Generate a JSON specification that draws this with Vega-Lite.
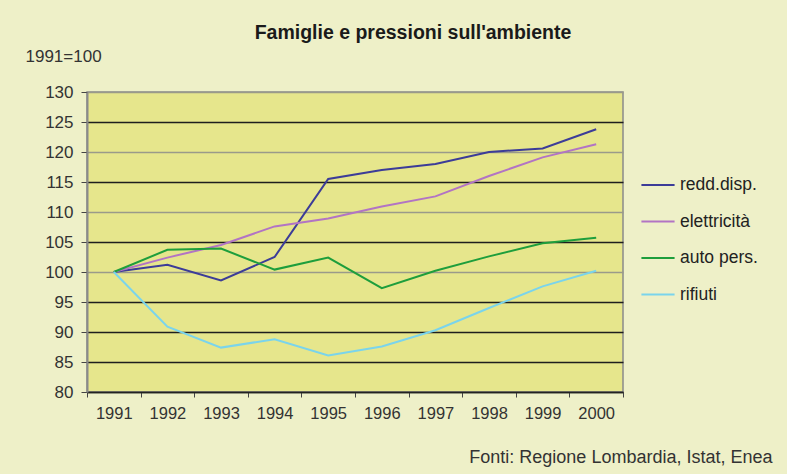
{
  "$schema": "https://vega.github.io/schema/vega-lite/v6.json",
  "width": 536,
  "height": 300,
  "autosize": {"type": "none"},
  "padding": {"left": 87, "top": 92, "right": 164, "bottom": 82},
  "background": "#eef0c8",
  "title": {
    "text": "Famiglie e pressioni sull'ambiente",
    "font": "Liberation Sans",
    "fontSize": 19.5,
    "fontWeight": "bold",
    "color": "#1a1a1a",
    "anchor": "middle",
    "frame": "group",
    "dx": 58,
    "dy": 6,
    "offset": 10
  },
  "data": {
    "values": [
      {"anno": "1991", "serie": "redd.disp.", "valore": 100},
      {"anno": "1992", "serie": "redd.disp.", "valore": 101.2},
      {"anno": "1993", "serie": "redd.disp.", "valore": 98.6},
      {"anno": "1994", "serie": "redd.disp.", "valore": 102.5},
      {"anno": "1995", "serie": "redd.disp.", "valore": 115.5},
      {"anno": "1996", "serie": "redd.disp.", "valore": 117.0},
      {"anno": "1997", "serie": "redd.disp.", "valore": 118.0},
      {"anno": "1998", "serie": "redd.disp.", "valore": 120.0},
      {"anno": "1999", "serie": "redd.disp.", "valore": 120.6},
      {"anno": "2000", "serie": "redd.disp.", "valore": 123.8},
      {"anno": "1991", "serie": "elettricità", "valore": 100},
      {"anno": "1992", "serie": "elettricità", "valore": 102.4},
      {"anno": "1993", "serie": "elettricità", "valore": 104.5},
      {"anno": "1994", "serie": "elettricità", "valore": 107.6},
      {"anno": "1995", "serie": "elettricità", "valore": 108.9},
      {"anno": "1996", "serie": "elettricità", "valore": 110.9},
      {"anno": "1997", "serie": "elettricità", "valore": 112.6},
      {"anno": "1998", "serie": "elettricità", "valore": 116.0},
      {"anno": "1999", "serie": "elettricità", "valore": 119.1},
      {"anno": "2000", "serie": "elettricità", "valore": 121.3},
      {"anno": "1991", "serie": "auto pers.", "valore": 100},
      {"anno": "1992", "serie": "auto pers.", "valore": 103.7},
      {"anno": "1993", "serie": "auto pers.", "valore": 103.9},
      {"anno": "1994", "serie": "auto pers.", "valore": 100.4},
      {"anno": "1995", "serie": "auto pers.", "valore": 102.4},
      {"anno": "1996", "serie": "auto pers.", "valore": 97.3},
      {"anno": "1997", "serie": "auto pers.", "valore": 100.2},
      {"anno": "1998", "serie": "auto pers.", "valore": 102.6},
      {"anno": "1999", "serie": "auto pers.", "valore": 104.8},
      {"anno": "2000", "serie": "auto pers.", "valore": 105.7},
      {"anno": "1991", "serie": "rifiuti", "valore": 100},
      {"anno": "1992", "serie": "rifiuti", "valore": 90.9},
      {"anno": "1993", "serie": "rifiuti", "valore": 87.4},
      {"anno": "1994", "serie": "rifiuti", "valore": 88.8},
      {"anno": "1995", "serie": "rifiuti", "valore": 86.1},
      {"anno": "1996", "serie": "rifiuti", "valore": 87.6},
      {"anno": "1997", "serie": "rifiuti", "valore": 90.3},
      {"anno": "1998", "serie": "rifiuti", "valore": 94.0},
      {"anno": "1999", "serie": "rifiuti", "valore": 97.6},
      {"anno": "2000", "serie": "rifiuti", "valore": 100.2}
    ]
  },
  "mark": {"type": "line", "strokeWidth": 2, "clip": false},
  "encoding": {
    "x": {
      "field": "anno",
      "type": "ordinal",
      "bandPosition": 0.5,
      "scale": {"type": "band", "paddingInner": 0, "paddingOuter": 0},
      "axis": {
        "title": "Fonti: Regione Lombardia, Istat, Enea",
        "titleFont": "Liberation Sans",
        "titleFontSize": 18,
        "titleFontWeight": "normal",
        "titleColor": "#333333",
        "titleAnchor": "end",
        "titleAlign": "right",
        "titleBaseline": "alphabetic",
        "titleX": 685,
        "titleY": 70,
        "labelAngle": 0,
        "labelFont": "Liberation Sans",
        "labelFontSize": 16.5,
        "labelColor": "#333333",
        "labelPadding": 8,
        "tickBand": "extent",
        "tickSize": 5,
        "tickColor": "#444444",
        "domainColor": "#222222",
        "domainWidth": 1.5,
        "grid": false
      }
    },
    "y": {
      "field": "valore",
      "type": "quantitative",
      "scale": {"domain": [80, 130], "nice": false, "zero": false},
      "axis": {
        "values": [80, 85, 90, 95, 100, 105, 110, 115, 120, 125, 130],
        "title": "1991=100",
        "titleFont": "Liberation Sans",
        "titleFontSize": 17,
        "titleFontWeight": "normal",
        "titleColor": "#333333",
        "titleAngle": 0,
        "titleAlign": "left",
        "titleBaseline": "alphabetic",
        "titleX": -62,
        "titleY": -31,
        "labelFont": "Liberation Sans",
        "labelFontSize": 17,
        "labelColor": "#333333",
        "labelPadding": 8,
        "tickSize": 6,
        "tickColor": "#444444",
        "domainColor": "#8a8a8a",
        "domainWidth": 2,
        "grid": true,
        "gridWidth": 1.5,
        "gridColor": {
          "condition": {"test": "datum.value == 100 || datum.value == 110 || datum.value == 120 || datum.value == 130", "value": "#9a9a8a"},
          "value": "#1e1e1e"
        }
      }
    },
    "color": {
      "field": "serie",
      "type": "nominal",
      "sort": ["redd.disp.", "elettricità", "auto pers.", "rifiuti"],
      "scale": {
        "domain": ["redd.disp.", "elettricità", "auto pers.", "rifiuti"],
        "range": ["#3c3c98", "#b274c4", "#1e9e3c", "#7ad4ec"]
      },
      "legend": {
        "title": null,
        "orient": "none",
        "legendX": 553,
        "legendY": 75,
        "symbolType": "stroke",
        "symbolSize": 1100,
        "symbolStrokeWidth": 2,
        "labelFont": "Liberation Sans",
        "labelFontSize": 17.5,
        "labelColor": "#222222",
        "labelOffset": 4,
        "rowPadding": 9.5
      }
    }
  },
  "config": {
    "view": {"fill": "#e6e68c", "stroke": "#8a8a8a", "strokeWidth": 1.5}
  }
}
